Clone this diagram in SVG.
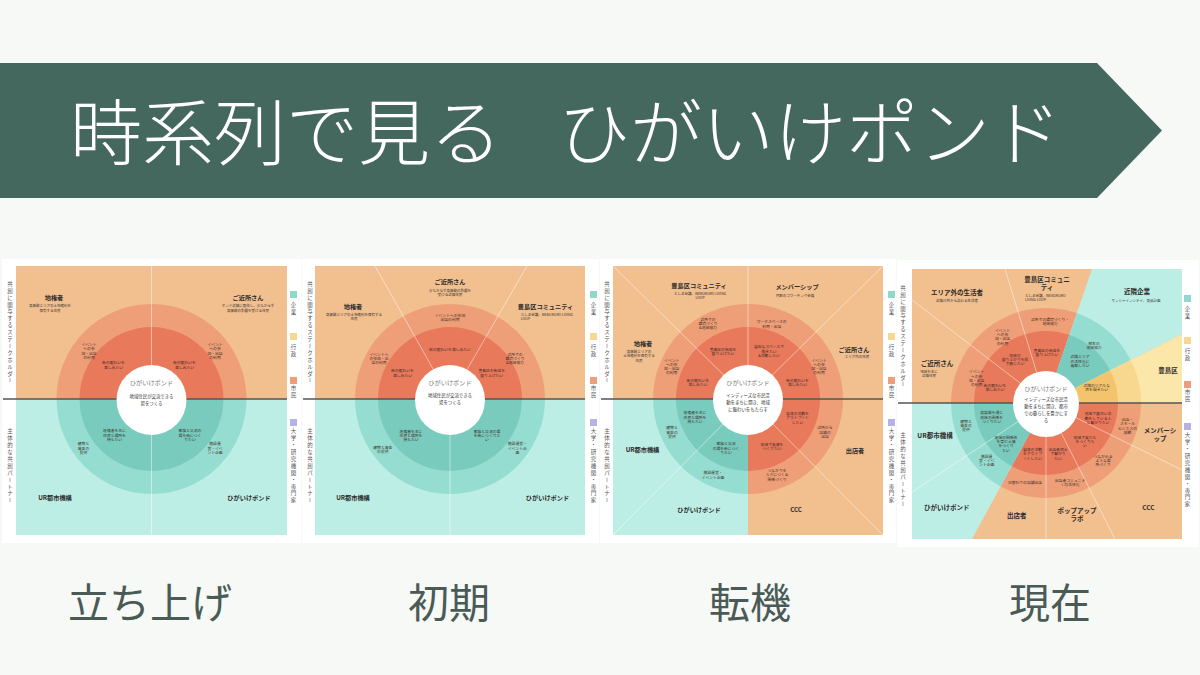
<svg xmlns="http://www.w3.org/2000/svg" xmlns:xlink="http://www.w3.org/1999/xlink" width="1200" height="675" viewBox="0 0 1200 675">
<style>
text{font-family:"Noto Sans CJK JP","Noto Sans",sans-serif;fill:#333;text-anchor:middle}
.lb{font-size:6.2px;font-weight:700;fill:#2b2b2b}
.p4 .lb{font-size:6.5px}
.sb{font-size:3.5px;fill:#333}
.rg{font-size:3.8px;fill:#3a2c28}
.cn{font-size:6.2px;fill:#7a7a7a}
.cd{font-size:4.4px;fill:#333}
.vt{font-size:5.5px;writing-mode:vertical-rl;text-orientation:upright;text-anchor:start;fill:#555;letter-spacing:1.4px}
.ttl{font-size:72px;font-weight:300;fill:#fff;text-anchor:start}
.stage{font-size:41px;font-weight:400;fill:#4a5b56}
.dv{stroke:#fff;stroke-opacity:.6;stroke-width:.8;fill:none}
.hz{stroke:#555;stroke-width:1.5}
.card{fill:#ffffff}
</style>
<defs>
<g id="rO"><rect x="-160" y="-160" width="320" height="320" fill="#f2bf8f"/><circle r="95" fill="#ef9f77"/><circle r="72" fill="#e9795b"/></g>
<g id="rT"><rect x="-160" y="-160" width="320" height="320" fill="#bdeee6"/><circle r="95" fill="#96ddd1"/><circle r="72" fill="#79cbbd"/></g>
<g id="rY"><rect x="-160" y="-160" width="320" height="320" fill="#fbe7aa"/><circle r="95" fill="#f8d78f"/><circle r="72" fill="#f4c46c"/></g>
<g id="lg">
<rect x="290" y="291" width="7" height="7" fill="#8fd8ca"/>
<text class="vt" x="293.5" y="302.5">企業</text>
<rect x="290" y="333" width="7" height="7" fill="#f6d98e"/>
<text class="vt" x="293.5" y="344.2">行政</text>
<rect x="290" y="377" width="7" height="7" fill="#ee9e78"/>
<text class="vt" x="293.5" y="385.2">市民</text>
<rect x="290" y="419" width="7" height="7" fill="#b4b3e5"/>
<text class="vt" x="293.5" y="428.5">大学・研究機関・専門家</text>
</g>
<g id="sl">
<text class="vt" x="10" y="281">共創に関与するステークホルダー</text>
<text class="vt" x="10" y="428.5">主体的な共創パートナー</text>
</g>
<clipPath id="c1o"><rect x="16" y="266" width="271" height="133"/></clipPath>
<clipPath id="c1t"><rect x="16" y="399" width="271" height="136"/></clipPath>
<clipPath id="c2o"><rect x="315" y="266" width="270" height="133"/></clipPath>
<clipPath id="c2t"><rect x="315" y="399" width="270" height="136"/></clipPath>
<clipPath id="c3o"><polygon points="613,266 883,266 883,535 748,535 748,399 613,399"/></clipPath>
<clipPath id="c3t"><rect x="613" y="399" width="135" height="136"/></clipPath>
<clipPath id="c4"><rect x="912" y="269" width="270" height="270"/></clipPath>
<clipPath id="c4a"><polygon points="1046,403 1092,269 1182,269 1182,334"/></clipPath>
<clipPath id="c4y"><polygon points="1046,403 1182,334 1182,403"/></clipPath>
<clipPath id="c4b"><polygon points="1046,403 912,403 912,539 972,539"/></clipPath>
</defs>

<rect width="1200" height="675" fill="#f7f9f6"/>

<g id="title">
<polygon points="0,63 1097,63 1162,130.5 1097,198 0,198" fill="#44675e"/>
<text class="ttl" x="70" y="159">時系列で見る</text>
<text class="ttl" x="558" y="159">ひがいけポンド</text>
</g>

<g id="cards">
<rect class="card" x="2" y="259" width="299" height="284"/>
<rect class="card" x="302" y="259" width="297" height="284"/>
<rect class="card" x="600" y="259" width="296" height="284"/>
<rect class="card" x="897" y="260" width="302" height="287"/>
</g>

<!-- Panel 1 -->
<g id="panel-1">
<g clip-path="url(#c1o)"><use xlink:href="#rO" x="151.5" y="399"/></g>
<g clip-path="url(#c1t)"><use xlink:href="#rT" x="151.5" y="399"/></g>
<g id="p1-dividers">
<line class="dv" x1="151.5" y1="266" x2="151.5" y2="535"/>
<line class="hz" x1="3" y1="399" x2="287" y2="399"/>
</g>
<circle cx="151.5" cy="400" r="35" fill="#fff"/>
<use xlink:href="#lg"/>
<use xlink:href="#sl"/>
<text class="lb" x="54" y="300.2">地権者</text>
<text class="sb" x="50" y="307.2"><tspan x="50">高架跡エリアの土地権利を</tspan><tspan x="50" dy="4.3">保有する住民</tspan></text>
<text class="lb" x="248" y="300.2">ご近所さん</text>
<text class="sb" x="248" y="307.2"><tspan x="248">ポンド近隣に居住し、少なからず</tspan><tspan x="248" dy="4.3">高架跡の影響を受ける住民</tspan></text>
<text class="rg" x="89" y="346.3"><tspan x="89">イベント</tspan><tspan x="89" dy="4.1">への参</tspan><tspan x="89" dy="4.1">加・出店</tspan><tspan x="89" dy="4.1">の利用</tspan></text>
<text class="rg" x="215" y="346.3"><tspan x="215">イベント</tspan><tspan x="215" dy="4.1">への参</tspan><tspan x="215" dy="4.1">加・出店</tspan><tspan x="215" dy="4.1">の利用</tspan></text>
<text class="rg" x="113.5" y="364"><tspan x="113.5">街の賑わいを</tspan><tspan x="113.5" dy="4.8">楽しみたい</tspan></text>
<text class="rg" x="184.5" y="364"><tspan x="184.5">街の賑わいを</tspan><tspan x="184.5" dy="4.8">楽しみたい</tspan></text>
<text class="cn" x="151.5" y="385">ひがいけポンド</text>
<text class="cd" x="151.5" y="398"><tspan x="151.5">地域住民が交流できる</tspan><tspan x="151.5" dy="6.5">場をつくる</tspan></text>
<text class="rg" x="114.5" y="432"><tspan x="114.5">地権者を主に</tspan><tspan x="114.5" dy="4.6">住民と場所を</tspan><tspan x="114.5" dy="4.6">持ちたい</tspan></text>
<text class="rg" x="190" y="432"><tspan x="190">家族と交流の</tspan><tspan x="190" dy="4.6">場を街につく</tspan><tspan x="190" dy="4.6">りたい</tspan></text>
<text class="rg" x="83.5" y="445.3"><tspan x="83.5">建物と</tspan><tspan x="83.5" dy="4.4">資金の</tspan><tspan x="83.5" dy="4.4">提供</tspan></text>
<text class="rg" x="215" y="445.3"><tspan x="215">施設運</tspan><tspan x="215" dy="4.2">営・イベ</tspan><tspan x="215" dy="4.2">ント企画</tspan></text>
<text class="lb" x="55" y="499.5">UR都市機構</text>
<text class="lb" x="249" y="499.5">ひがいけポンド</text>
</g>

<!-- Panel 2 -->
<g id="panel-2">
<g clip-path="url(#c2o)"><use xlink:href="#rO" x="450" y="399"/></g>
<g clip-path="url(#c2t)"><use xlink:href="#rT" x="450" y="399"/></g>
<g id="p2-dividers">
<line class="dv" x1="450" y1="399" x2="375" y2="266"/>
<line class="dv" x1="450" y1="399" x2="527" y2="266"/>
<line class="dv" x1="450" y1="399" x2="450" y2="535"/>
<line class="hz" x1="303" y1="399" x2="585" y2="399"/>
</g>
<circle cx="450" cy="400" r="35" fill="#fff"/>
<use xlink:href="#lg" x="300"/>
<use xlink:href="#sl" x="300"/>
<text class="lb" x="450" y="284.2">ご近所さん</text>
<text class="sb" x="450" y="291.5"><tspan x="450">少なからず高架跡の影響を</tspan><tspan x="450" dy="4.3">受ける近隣住民</tspan></text>
<text class="lb" x="353" y="308.5">地権者</text>
<text class="sb" x="354" y="315.5"><tspan x="354">高架跡エリアの土地権利を保有する</tspan><tspan x="354" dy="4.3">住民</tspan></text>
<text class="lb" x="545.5" y="308.5">豊島区コミュニティ</text>
<text class="sb" x="520.7" y="315.5" style="text-anchor:start"><tspan x="520.7">としま会議、WEBUKURO LIVING</tspan><tspan x="520.7" dy="4.3">LOOP</tspan></text>
<text class="rg" x="450" y="316.6"><tspan x="450">イベントへの参加</tspan><tspan x="450" dy="4.2">出店の利用</tspan></text>
<text class="rg" x="450" y="350.6">街の賑わいを楽しみたい</text>
<text class="rg" x="379" y="356"><tspan x="379">イベントへ</tspan><tspan x="379" dy="4.1">の参加・出</tspan><tspan x="379" dy="4.1">店の利用</tspan></text>
<text class="rg" x="402.5" y="372.3"><tspan x="402.5">街の賑わいを</tspan><tspan x="402.5" dy="4.4">楽しみたい</tspan></text>
<text class="rg" x="515" y="356"><tspan x="515">近所での</tspan><tspan x="515" dy="4.1">環境づくり</tspan><tspan x="515" dy="4.1">&amp;地域協力</tspan></text>
<text class="rg" x="491.7" y="372.3"><tspan x="491.7">豊島区の街並を</tspan><tspan x="491.7" dy="4.4">盛り上げたい</tspan></text>
<text class="cn" x="450" y="385">ひがいけポンド</text>
<text class="cd" x="450" y="397"><tspan x="450">地域住民が交流できる</tspan><tspan x="450" dy="7">場をつくる</tspan></text>
<text class="rg" x="411" y="432.6"><tspan x="411">地権者を主に</tspan><tspan x="411" dy="4.4">住民と場所を</tspan><tspan x="411" dy="4.4">持ちたい</tspan></text>
<text class="rg" x="487" y="432.6"><tspan x="487">家族と交流の場</tspan><tspan x="487" dy="4.4">を街につくりた</tspan><tspan x="487" dy="4.4">い</tspan></text>
<text class="rg" x="382.8" y="448.6"><tspan x="382.8">建物と資金</tspan><tspan x="382.8" dy="4.1">の提供</tspan></text>
<text class="rg" x="517.3" y="445.3"><tspan x="517.3">施設運営・</tspan><tspan x="517.3" dy="4.2">イベント企</tspan><tspan x="517.3" dy="4.2">画</tspan></text>
<text class="lb" x="353" y="499.5">UR都市機構</text>
<text class="lb" x="547.5" y="499.5">ひがいけポンド</text>
</g>

<!-- Panel 3 -->
<g id="panel-3">
<g clip-path="url(#c3o)"><use xlink:href="#rO" x="748" y="399"/></g>
<g clip-path="url(#c3t)"><use xlink:href="#rT" x="748" y="399"/></g>
<g id="p3-dividers">
<line class="dv" x1="748" y1="399" x2="613" y2="266"/>
<line class="dv" x1="748" y1="399" x2="883" y2="266"/>
<line class="dv" x1="748" y1="399" x2="748" y2="266"/>
<line class="dv" x1="748" y1="399" x2="613" y2="535"/>
<line class="dv" x1="748" y1="399" x2="883" y2="535"/>
<line class="hz" x1="601" y1="399" x2="883" y2="399"/>
</g>
<circle cx="748" cy="400" r="35" fill="#fff"/>
<use xlink:href="#lg" x="598"/>
<use xlink:href="#sl" x="597"/>
<text class="lb" x="699" y="287.5">豊島区コミュニティ</text>
<text class="sb" x="700" y="295"><tspan x="700">としま会議、WEBUKURO LIVING</tspan><tspan x="700" dy="4.3">LOOP</tspan></text>
<text class="lb" x="797" y="289.2">メンバーシップ</text>
<text class="sb" x="795" y="296.5">月額のコワーキング会員</text>
<text class="lb" x="643" y="346">地権者</text>
<text class="sb" x="639" y="353.2"><tspan x="639">高架跡エリアの</tspan><tspan x="639" dy="4.2">土地権利を保有する</tspan><tspan x="639" dy="4.2">住民</tspan></text>
<text class="lb" x="854" y="351.5">ご近所さん</text>
<text class="sb" x="857" y="358.2">エリア内の市民</text>
<text class="rg" x="708" y="320.6"><tspan x="708">近所での</tspan><tspan x="708" dy="4.3">環境づくり</tspan><tspan x="708" dy="4.3">&amp;地域協力</tspan></text>
<text class="rg" x="771.7" y="323.3"><tspan x="771.7">ワークスペースの</tspan><tspan x="771.7" dy="4.3">利用・出店</tspan></text>
<text class="rg" x="671.7" y="362.3"><tspan x="671.7">イベント</tspan><tspan x="671.7" dy="4">への参</tspan><tspan x="671.7" dy="4">加・出店</tspan><tspan x="671.7" dy="4">の利用</tspan></text>
<text class="rg" x="819" y="362.3"><tspan x="819">イベント</tspan><tspan x="819" dy="4">への参</tspan><tspan x="819" dy="4">加・出店</tspan><tspan x="819" dy="4">の利用</tspan></text>
<text class="rg" x="723" y="350.6"><tspan x="723">豊島区の街並を</tspan><tspan x="723" dy="4.4">盛り上げたい</tspan></text>
<text class="rg" x="769" y="348.3"><tspan x="769">自由なスペースで</tspan><tspan x="769" dy="4.3">働きたい</tspan><tspan x="769" dy="4.3">&amp;活動したい</tspan></text>
<text class="rg" x="698" y="381.6"><tspan x="698">街の賑わいを</tspan><tspan x="698" dy="4.4">楽しみたい</tspan></text>
<text class="rg" x="797.5" y="381.6"><tspan x="797.5">街の賑わいを</tspan><tspan x="797.5" dy="4.4">楽しみたい</tspan></text>
<text class="cn" x="748" y="385">ひがいけポンド</text>
<text class="cd" x="748" y="397"><tspan x="748">インディーズな市民活</tspan><tspan x="748" dy="7">動をまちに開き、地域</tspan><tspan x="748" dy="7">に賑わいをもたらす</tspan></text>
<text class="rg" x="695" y="414.3"><tspan x="695">地権者を主に</tspan><tspan x="695" dy="4.4">住民と場所を</tspan><tspan x="695" dy="4.4">持ちたい</tspan></text>
<text class="rg" x="672" y="429.3"><tspan x="672">建物と</tspan><tspan x="672" dy="4.3">資金の</tspan><tspan x="672" dy="4.3">提供</tspan></text>
<text class="rg" x="726" y="445.3"><tspan x="726">家族と交流</tspan><tspan x="726" dy="4.3">の場を街につく</tspan><tspan x="726" dy="4.3">りたい</tspan></text>
<text class="rg" x="713" y="474.3"><tspan x="713">施設運営・</tspan><tspan x="713" dy="4.8">イベント企画</tspan></text>
<text class="rg" x="797.5" y="415"><tspan x="797.5">自身の活動を</tspan><tspan x="797.5" dy="4.3">アウトプット</tspan><tspan x="797.5" dy="4.3">したい</tspan></text>
<text class="rg" x="825" y="429.3"><tspan x="825">近所から</tspan><tspan x="825" dy="4.3">店舗の</tspan><tspan x="825" dy="4.3">出店</tspan></text>
<text class="rg" x="772" y="446"><tspan x="772">地域で友達を</tspan><tspan x="772" dy="4.3">つくりたい</tspan></text>
<text class="rg" x="777" y="472"><tspan x="777">つながりを</tspan><tspan x="777" dy="4.3">人々につくる</tspan><tspan x="777" dy="4.3">関係づくり</tspan></text>
<text class="lb" x="642.5" y="452">UR都市機構</text>
<text class="lb" x="855" y="453">出店者</text>
<text class="lb" x="699" y="512">ひがいけポンド</text>
<text class="lb" x="796" y="512">CCC</text>
</g>

<!-- Panel 4 -->
<g id="panel-4" class="p4">
<g clip-path="url(#c4)"><use xlink:href="#rO" x="1046" y="403"/></g>
<g clip-path="url(#c4a)"><use xlink:href="#rT" x="1046" y="403"/></g>
<g clip-path="url(#c4y)"><use xlink:href="#rY" x="1046" y="403"/></g>
<g clip-path="url(#c4b)"><use xlink:href="#rT" x="1046" y="403"/></g>
<g id="p4-dividers">
<line class="dv" x1="1046" y1="403" x2="912" y2="300"/>
<line class="dv" x1="1046" y1="403" x2="1005" y2="269"/>
<line class="dv" x1="1046" y1="403" x2="912" y2="492"/>
<line class="dv" x1="1046" y1="403" x2="1046" y2="539"/>
<line class="dv" x1="1046" y1="403" x2="1115" y2="539"/>
<line class="dv" x1="1046" y1="403" x2="1182" y2="470"/>
<line class="hz" x1="898" y1="403" x2="1182" y2="403"/>
</g>
<circle cx="1046" cy="404" r="33" fill="#fff"/>
<use xlink:href="#lg" x="894" y="4"/>
<use xlink:href="#sl" x="893" y="4"/>
<text class="lb" x="957" y="295">エリア外の生活者</text>
<text class="sb" x="957" y="301.5">近隣以外から訪れる生活者</text>
<text class="lb" x="1047" y="282"><tspan x="1047">豊島区コミュニ</tspan><tspan x="1047" dy="8">ティ</tspan></text>
<text class="sb" x="1025" y="296.5" style="text-anchor:start"><tspan x="1025">としま会議、WEBUKURO</tspan><tspan x="1025" dy="4.1">LIVING LOOP</tspan></text>
<text class="lb" x="1137" y="294.2">近隣企業</text>
<text class="sb" x="1136" y="301.5">サンシャインシティ、良品計画</text>
<text class="lb" x="1168" y="372.5">豊島区</text>
<text class="lb" x="937" y="366">ご近所さん</text>
<text class="sb" x="929" y="373.2"><tspan x="929">地域を主に</tspan><tspan x="929" dy="4.1">近隣住民</tspan></text>
<text class="rg" x="1050" y="320.6"><tspan x="1050">近所での環境づくり・</tspan><tspan x="1050" dy="4.4">地域協力</tspan></text>
<text class="rg" x="1002.5" y="331.6"><tspan x="1002.5">イベント</tspan><tspan x="1002.5" dy="4.3">への参</tspan><tspan x="1002.5" dy="4.3">加・出店</tspan><tspan x="1002.5" dy="4.3">の利用</tspan></text>
<text class="rg" x="1094" y="345"><tspan x="1094">相互の</tspan><tspan x="1094" dy="4.3">地域協力</tspan></text>
<text class="rg" x="1015" y="356.6"><tspan x="1015">地域の</tspan><tspan x="1015" dy="4.3">盛り上がりを肌</tspan><tspan x="1015" dy="4.3">で感じたい</tspan></text>
<text class="rg" x="1047" y="351.6"><tspan x="1047">豊島区の街並を</tspan><tspan x="1047" dy="4.4">盛り上げたい</tspan></text>
<text class="rg" x="1080" y="358.3"><tspan x="1080">近隣エリア</tspan><tspan x="1080" dy="4.3">の活性化に</tspan><tspan x="1080" dy="4.3">貢献したい</tspan></text>
<text class="rg" x="976.7" y="373.3"><tspan x="976.7">イベント</tspan><tspan x="976.7" dy="4.3">への参</tspan><tspan x="976.7" dy="4.3">加・出店</tspan><tspan x="976.7" dy="4.3">の利用</tspan></text>
<text class="rg" x="995" y="386.6"><tspan x="995">街の賑わいを</tspan><tspan x="995" dy="4.4">楽しみたい</tspan></text>
<text class="rg" x="1096.7" y="386.6"><tspan x="1096.7">近隣のリアルな</tspan><tspan x="1096.7" dy="4.4">声を聞きたい</tspan></text>
<text class="cn" x="1046" y="391">ひがいけポンド</text>
<text class="cd" x="1046" y="401.3"><tspan x="1046">インディーズな市民活</tspan><tspan x="1046" dy="6.9">動をまちに開き、都市</tspan><tspan x="1046" dy="6.9">での暮らしを豊かにす</tspan><tspan x="1046" dy="6.9">る</tspan></text>
<text class="rg" x="966" y="422.6"><tspan x="966">建物と</tspan><tspan x="966" dy="4.3">資金の</tspan><tspan x="966" dy="4.3">提供</tspan></text>
<text class="rg" x="991.7" y="414.3"><tspan x="991.7">高架跡を通じ</tspan><tspan x="991.7" dy="4.3">地域の関係を</tspan><tspan x="991.7" dy="4.3">つくりたい</tspan></text>
<text class="rg" x="1006" y="438.6"><tspan x="1006">地域の関係性</tspan><tspan x="1006" dy="4.3">を育む土壌</tspan><tspan x="1006" dy="4.3">をつくり</tspan><tspan x="1006" dy="4.3">たい</tspan></text>
<text class="rg" x="986.7" y="457.6"><tspan x="986.7">施設運</tspan><tspan x="986.7" dy="4.3">営・イベ</tspan><tspan x="986.7" dy="4.3">ント企画</tspan></text>
<text class="rg" x="1032.5" y="451"><tspan x="1032.5">自身の活動</tspan><tspan x="1032.5" dy="4.3">をアウトプ</tspan><tspan x="1032.5" dy="4.3">ットしたい</tspan></text>
<text class="rg" x="1058" y="451"><tspan x="1058">出店者同士</tspan><tspan x="1058" dy="4.3">で繋がり</tspan><tspan x="1058" dy="4.3">たい</tspan></text>
<text class="rg" x="1085" y="438.6"><tspan x="1085">地域で友だち</tspan><tspan x="1085" dy="4.3">をつくりた</tspan><tspan x="1085" dy="4.3">い</tspan></text>
<text class="rg" x="1098" y="415.3"><tspan x="1098">地域で面白い活</tspan><tspan x="1098" dy="4.3">動をしている人</tspan><tspan x="1098" dy="4.3">と繋がりたい</tspan></text>
<text class="rg" x="1127.5" y="421"><tspan x="1127.5">出店・</tspan><tspan x="1127.5" dy="4.3">スモール</tspan><tspan x="1127.5" dy="4.3">ビジネスの</tspan><tspan x="1127.5" dy="4.3">挑戦</tspan></text>
<text class="rg" x="1103" y="457.6"><tspan x="1103">つながれる</tspan><tspan x="1103" dy="4.3">ような場</tspan><tspan x="1103" dy="4.3">所づくり</tspan></text>
<text class="rg" x="1025" y="484.3">日替わりの店舗出店</text>
<text class="rg" x="1070" y="482"><tspan x="1070">出店者コミュニテ</tspan><tspan x="1070" dy="4.3">ィの活性化</tspan></text>
<text class="lb" x="935" y="437.5">UR都市機構</text>
<text class="lb" x="946.7" y="510">ひがいけポンド</text>
<text class="lb" x="1160" y="433"><tspan x="1160">メンバーシ</tspan><tspan x="1160" dy="8.2">ップ</tspan></text>
<text class="lb" x="1016.7" y="517.5">出店者</text>
<text class="lb" x="1077" y="513"><tspan x="1077">ポップアップ</tspan><tspan x="1077" dy="8.2">ラボ</tspan></text>
<text class="lb" x="1148.5" y="510">CCC</text>
</g>

<g id="stages">
<text class="stage" x="150" y="618">立ち上げ</text>
<text class="stage" x="449" y="618">初期</text>
<text class="stage" x="750" y="618">転機</text>
<text class="stage" x="1050" y="618">現在</text>
</g>
</svg>
